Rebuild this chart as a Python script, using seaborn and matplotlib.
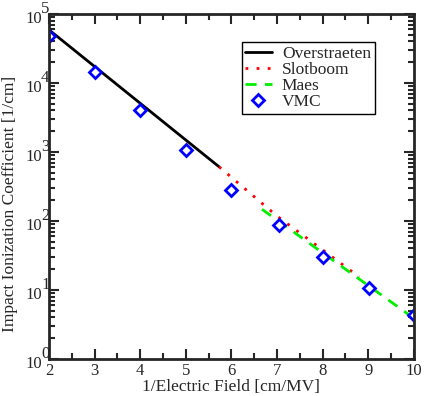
import numpy as np
import pandas as pd
import matplotlib
matplotlib.use("Agg")
import matplotlib.pyplot as plt
import matplotlib.transforms as mtrans
import seaborn as sns
from matplotlib.ticker import LogLocator, MultipleLocator, NullFormatter

# Data
over_x = [2.0, 5.73]
over_y = [5.9e4, 610.0]
slot_x = [5.73, 7.0, 8.8]
slot_y = [610.0, 118.0, 15.5]
maes_x = [6.67, 10.0]
maes_y = [148.0, 3.9]
vmc_x = [2.0, 3.0, 4.0, 5.0, 6.0, 7.05, 8.0, 9.02, 10.0]
vmc_y = [48000, 14400, 4050, 1070, 280, 88, 30, 10.7, 4.4]
y_exponents = [0, 1, 2, 3, 4, 5]

sns.set_style("ticks")
plt.rcParams['font.family'] = ['Liberation Serif', 'DejaVu Serif']

fig = plt.figure(figsize=(4.24, 3.96), dpi=100)
ax = fig.add_axes([0.1156, 0.0934, 0.8604, 0.8712])

df_o = pd.DataFrame({"x": over_x, "y": over_y})
df_s = pd.DataFrame({"x": slot_x, "y": slot_y})
df_m = pd.DataFrame({"x": maes_x, "y": maes_y})
df_v = pd.DataFrame({"x": vmc_x, "y": vmc_y})

sns.lineplot(data=df_o, x="x", y="y", ax=ax, color="black", lw=2, label="Overstraeten", sort=False)
sns.lineplot(data=df_s, x="x", y="y", ax=ax, color="red", lw=2, linestyle=(0, (1, 3)), label="Slotboom", sort=False)
sns.lineplot(data=df_m, x="x", y="y", ax=ax, color="#00ee00", lw=2, linestyle=(0, (4, 3)), label="Maes", sort=False)
ax.plot(df_v["x"], df_v["y"], linestyle="none", marker="D", markersize=6.5,
        markerfacecolor="white", markeredgecolor="blue", markeredgewidth=2, label="VMC")

ax.set_yscale("log")
ax.set_xlim(2, 10)
ax.set_ylim(1, 1e5)
ax.xaxis.set_major_locator(MultipleLocator(1))
ax.xaxis.set_minor_locator(MultipleLocator(0.5))
ax.yaxis.set_major_locator(LogLocator(base=10, numticks=10))
ax.yaxis.set_minor_locator(LogLocator(base=10, subs=np.arange(2, 10), numticks=10))
ax.yaxis.set_major_formatter(NullFormatter())
ax.yaxis.set_minor_formatter(NullFormatter())

ax.tick_params(which="both", direction="in", top=True, right=True, width=1.5, labelsize=12)
ax.tick_params(which="major", length=7, pad=3)
ax.tick_params(which="minor", length=4)
for s in ax.spines.values():
    s.set_linewidth(2)

# y tick labels drawn as "10" with a large raised exponent (xmgrace style)
ytrans = ax.get_yaxis_transform()
base_tr = mtrans.offset_copy(ytrans, fig=fig, x=-7, y=-4.5, units="dots")
exp_tr = mtrans.offset_copy(ytrans, fig=fig, x=-8, y=5, units="dots")
for e in y_exponents:
    ax.text(0, 10.0 ** e, "10", transform=base_tr, ha="right", va="center", fontsize=12, clip_on=False)
    ax.text(0, 10.0 ** e, str(e), transform=exp_tr, ha="left", va="center", fontsize=12, clip_on=False)

ax.set_xlabel("1/Electric Field [cm/MV]", fontsize=12.5, labelpad=0)
ax.set_ylabel("Impact Ionization Coefficient [1/cm]", fontsize=12.5, labelpad=0)
ax.yaxis.set_label_coords(-0.085, 0.45)

leg = ax.legend(loc="upper left", bbox_to_anchor=(0.529, 0.919), fontsize=12.5,
                frameon=True, fancybox=False, edgecolor="black", framealpha=1,
                borderpad=0.2, labelspacing=0.0, handlelength=1.5, handletextpad=0.6,
                borderaxespad=0)
leg.get_frame().set_linewidth(1)

fig.savefig("out.png", dpi=100)
